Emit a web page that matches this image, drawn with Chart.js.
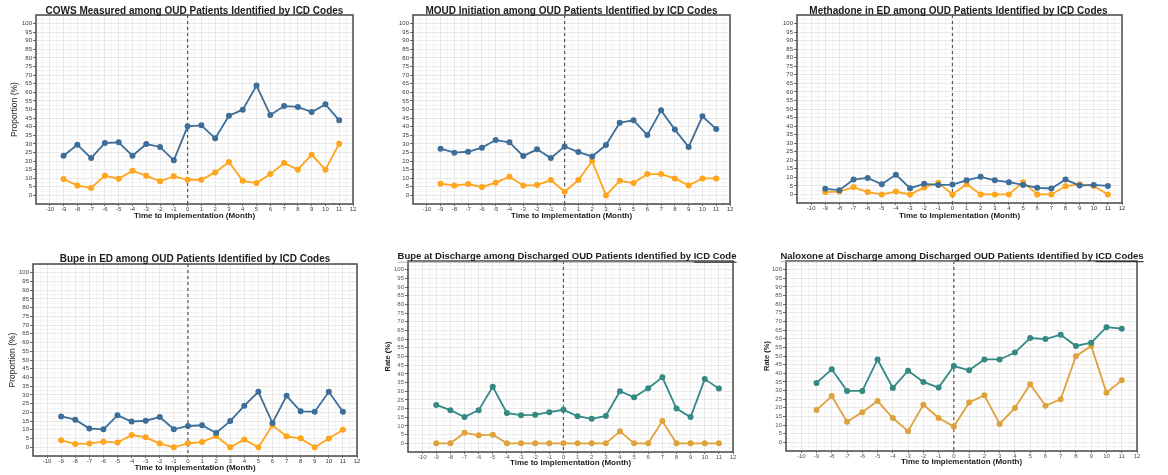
<!DOCTYPE html>
<html>
<head>
<meta charset="utf-8">
<script src="https://cdn.jsdelivr.net/npm/chart.js@4.4.1/dist/chart.umd.min.js"></script>
<style>
  body { margin: 0; background: #fff; width: 1168px; height: 475px; position: relative; overflow: hidden; }
  canvas { position: absolute; }
</style>
</head>
<body>
<canvas id="c1"></canvas>
<canvas id="c2"></canvas>
<canvas id="c3"></canvas>
<canvas id="c4"></canvas>
<canvas id="c5"></canvas>
<canvas id="c6"></canvas>
<script>
const FONT = '"Liberation Sans", Arial, sans-serif';

// months relative to implementation
const months = [-9, -8, -7, -6, -5, -4, -3, -2, -1, 0, 1, 2, 3, 4, 5, 6, 7, 8, 9, 10, 11];

const cowsBlue   = [23.1, 29.5, 21.7, 30.5, 30.9, 23.1, 29.9, 28.2, 20.4, 40.2, 40.8, 33.2, 46.4, 49.9, 63.9, 46.8, 52.0, 51.5, 48.5, 53.0, 43.7];
const cowsOrange = [9.5, 5.8, 4.3, 11.5, 9.7, 14.4, 11.5, 8.2, 11.1, 9.1, 9.1, 13.4, 19.4, 8.5, 7.2, 12.4, 18.8, 15.0, 23.7, 15.0, 30.1];

const moudBlue   = [27.2, 24.9, 25.4, 27.8, 32.2, 30.9, 22.9, 26.8, 21.7, 28.5, 25.2, 22.7, 29.3, 42.3, 43.7, 35.1, 49.5, 38.3, 28.2, 46.0, 38.6];
const moudOrange = [6.8, 5.8, 6.6, 4.9, 7.4, 10.9, 5.8, 6.0, 8.9, 2.1, 8.9, 20.0, 0, 8.5, 7.2, 12.4, 12.4, 9.9, 5.8, 9.9, 9.9];

const methBlue   = [3.3, 2.5, 8.7, 9.7, 6.0, 11.6, 3.7, 6.2, 5.6, 5.8, 8.3, 10.3, 8.3, 7.2, 5.6, 3.9, 3.5, 8.7, 5.2, 5.6, 5.0];
const methOrange = [1.4, 1.7, 4.3, 1.4, 0, 1.7, 0, 4.1, 6.8, 0, 6.0, 0, 0, 0, 7.2, 0, 0, 4.8, 6.0, 5.0, 0];

const bupeEdBlue   = [17.7, 15.8, 10.7, 10.3, 18.3, 14.7, 15.2, 17.3, 10.3, 12.2, 12.6, 8.2, 15.0, 23.8, 31.8, 13.9, 29.5, 20.6, 20.4, 31.8, 20.4];
const bupeEdOrange = [4.0, 1.9, 2.1, 3.2, 2.7, 7.0, 5.7, 2.1, 0, 2.3, 3.0, 6.5, 0, 4.4, 0, 12.6, 6.3, 5.1, 0, 5.0, 10.1];

const bupeDcTeal   = [22.1, 19.1, 15.1, 19.1, 32.6, 17.4, 16.2, 16.4, 17.9, 19.3, 15.6, 14.1, 15.8, 30.0, 26.5, 31.7, 38.0, 20.0, 15.1, 37.0, 31.5];
const bupeDcOrange = [0, 0, 6.1, 4.6, 5.0, 0, 0, 0, 0, 0, 0, 0, 0, 6.9, 0, 0, 12.8, 0, 0, 0, 0];

const naloxTeal   = [34.4, 42.3, 29.8, 29.8, 48.0, 31.5, 41.5, 35.0, 31.7, 44.2, 41.7, 48.0, 48.0, 52.0, 60.4, 59.8, 62.3, 55.8, 57.7, 66.7, 65.8];
const naloxOrange = [18.7, 26.8, 11.9, 17.4, 23.9, 14.1, 6.5, 21.8, 14.1, 9.2, 23.1, 27.3, 10.7, 19.9, 33.7, 21.2, 25.0, 49.9, 55.8, 28.7, 35.9];

const blue = '#3d6e99', orange = '#ffa51c';
const teal = '#348985', amber = '#dea23c';

// panel boxes / frame edges are page pixels
const panels = [
  { id: 'c1', box: [0, 0, 385, 235], frame: [36, 15, 353, 204], title: 'COWS Measured among OUD Patients Identified by ICD Codes',
    titleAt: [194.5, 11], titleSize: 10, yTitle: 'Proportion (%)', yTitleX: 15, yTitleBold: false, xTitleY: 216,
    series: [cowsBlue, cowsOrange], colors: [blue, orange] },
  { id: 'c2', box: [385, 0, 385, 235], frame: [413, 15, 730, 204], title: 'MOUD Initiation among OUD Patients Identified by ICD Codes',
    titleAt: [571.5, 11], titleSize: 10, yTitle: '', xTitleY: 216,
    series: [moudBlue, moudOrange], colors: [blue, orange] },
  { id: 'c3', box: [770, 0, 398, 235], frame: [797, 15, 1122, 203], title: 'Methadone in ED among OUD Patients Identified by ICD Codes',
    titleAt: [958.5, 11], titleSize: 10, yTitle: '', xTitleY: 216,
    series: [methBlue, methOrange], colors: [blue, orange] },
  { id: 'c4', box: [0, 240, 385, 235], frame: [33, 264, 357, 456], title: 'Bupe in ED among OUD Patients Identified by ICD Codes',
    titleAt: [195, 259], titleSize: 10, yTitle: 'Proportion (%)', yTitleX: 13, yTitleBold: false, xTitleY: 468,
    series: [bupeEdBlue, bupeEdOrange], colors: [blue, orange] },
  { id: 'c5', box: [380, 240, 385, 235], frame: [408, 261, 733, 452], title: 'Bupe at Discharge among Discharged OUD Patients Identified by ICD Code',
    titleAt: [567, 256.5], titleSize: 9.5, underline: true, yTitle: 'Rate (%)', yTitleX: 388, yTitleBold: true, xTitleY: 463,
    series: [bupeDcTeal, bupeDcOrange], colors: [teal, amber] },
  { id: 'c6', box: [760, 240, 408, 235], frame: [786, 261, 1137, 451], title: 'Naloxone at Discharge among Discharged OUD Patients Identified by ICD Codes',
    titleAt: [962, 256], titleSize: 9.5, underline: true, yTitle: 'Rate (%)', yTitleX: 767, yTitleBold: true, xTitleY: 462,
    series: [naloxTeal, naloxOrange], colors: [teal, amber] }
];

const panelDecor = {
  id: 'panelDecor',
  beforeDatasetsDraw(chart, args, opts) {
    const { ctx, chartArea } = chart;
    const x0 = chart.scales.x.getPixelForValue(0);
    ctx.save();
    ctx.strokeStyle = '#555';
    ctx.lineWidth = 1.2;
    ctx.setLineDash([3, 3]);
    ctx.beginPath();
    ctx.moveTo(x0, chartArea.top);
    ctx.lineTo(x0, chartArea.bottom);
    ctx.stroke();
    ctx.restore();
  },
  afterDraw(chart, args, opts) {
    const { ctx, chartArea } = chart;
    ctx.save();
    ctx.strokeStyle = '#4a4a4a';
    ctx.lineWidth = 1.5;
    ctx.strokeRect(chartArea.left, chartArea.top, chartArea.right - chartArea.left, chartArea.bottom - chartArea.top);

    ctx.font = 'bold ' + opts.size + 'px ' + FONT;
    ctx.fillStyle = '#1c1c1c';
    ctx.textAlign = 'center';
    ctx.textBaseline = 'middle';
    ctx.fillText(opts.text, opts.x, opts.y);
    if (opts.underline) {
      const w = ctx.measureText(opts.text).width;
      const start = opts.x - w / 2;
      const uy = opts.y + opts.size * 0.6;
      ctx.strokeStyle = '#9a9a9a';
      ctx.lineWidth = 0.8;
      ctx.beginPath();
      ctx.moveTo(start, uy);
      ctx.lineTo(start + w, uy);
      ctx.stroke();
      const k = opts.text.indexOf('ICD');
      const sx = start + ctx.measureText(opts.text.slice(0, k)).width;
      ctx.strokeStyle = '#222';
      ctx.lineWidth = 1;
      ctx.beginPath();
      ctx.moveTo(sx, uy);
      ctx.lineTo(start + w, uy);
      ctx.stroke();
    }
    ctx.restore();
  }
};

function makePanel(p) {
  const [bx, by, bw, bh] = p.box;
  const [fl, ft, fr, fb] = p.frame;
  const el = document.getElementById(p.id);
  el.width = bw;
  el.height = bh;
  el.style.left = bx + 'px';
  el.style.top = by + 'px';

  const yw = fl - bx;
  const xTitleSize = 8;
  const xh = p.xTitleY + xTitleSize * 1.2 / 2 - fb;
  const yTitleSize = p.yTitleBold ? 7.5 : 8.5;
  const yTitlePad = p.yTitle ? p.yTitleX - bx - yTitleSize * 1.2 / 2 : 0;
  const tickColor = p.colors[0] === teal ? '#555' : '#3a3a3a';

  return new Chart(el, {
    type: 'line',
    data: {
      datasets: p.series.map((s, i) => ({
        label: 'Series ' + (i + 1),
        data: months.map((m, j) => ({ x: m, y: s[j] })),
        borderColor: p.colors[i],
        backgroundColor: p.colors[i],
        borderWidth: 1.8,
        pointRadius: 2.1,
        pointHoverRadius: 2.1,
        tension: 0,
        clip: false
      }))
    },
    options: {
      responsive: false,
      animation: false,
      devicePixelRatio: 1,
      layout: {
        padding: { left: 0, top: ft - by, right: bx + bw - fr, bottom: by + bh - fb - xh }
      },
      plugins: {
        legend: { display: false },
        title: { display: false },
        tooltip: { enabled: false },
        panelDecor: { text: p.title, x: p.titleAt[0] - bx, y: p.titleAt[1] - by, size: p.titleSize, underline: !!p.underline }
      },
      scales: {
        x: {
          type: 'linear',
          min: -11,
          max: 12,
          afterFit: s => { s.height = xh; },
          border: { display: false },
          grid: {
            color: c => Number.isInteger(c.tick.value) ? '#e3e3e3' : '#f1f1f1',
            tickColor: c => Number.isInteger(c.tick.value) && c.tick.value >= -10 ? '#444' : 'rgba(0,0,0,0)',
            tickLength: 2,
            lineWidth: 0.8
          },
          ticks: {
            stepSize: 0.5,
            autoSkip: false,
            maxRotation: 0,
            padding: 0,
            color: tickColor,
            font: { size: 6, family: FONT },
            callback: v => (Number.isInteger(v) && v >= -10) ? String(v) : ''
          },
          title: {
            display: true,
            text: 'Time to Implementation (Month)',
            color: '#1c1c1c',
            font: { size: xTitleSize, weight: 'bold', family: FONT },
            padding: { top: 0, bottom: 0 }
          }
        },
        y: {
          type: 'linear',
          min: -5,
          max: 105,
          afterFit: s => { s.width = yw; },
          border: { display: false },
          grid: {
            color: c => c.tick.value % 5 === 0 ? '#e3e3e3' : '#f1f1f1',
            tickColor: c => (c.tick.value % 5 === 0 && c.tick.value >= 0 && c.tick.value <= 100) ? '#444' : 'rgba(0,0,0,0)',
            tickLength: 3,
            lineWidth: 0.8
          },
          ticks: {
            stepSize: 2.5,
            autoSkip: false,
            padding: 1,
            color: tickColor,
            font: { size: 6, family: FONT },
            callback: v => (v % 5 === 0 && v >= 0 && v <= 100) ? String(v) : ''
          },
          title: {
            display: !!p.yTitle,
            text: p.yTitle,
            color: '#1c1c1c',
            font: { size: yTitleSize, weight: p.yTitleBold ? 'bold' : 'normal', family: FONT },
            padding: { top: yTitlePad, bottom: 0 }
          }
        }
      }
    },
    plugins: [panelDecor]
  });
}

panels.forEach(makePanel);
</script>
</body>
</html>
